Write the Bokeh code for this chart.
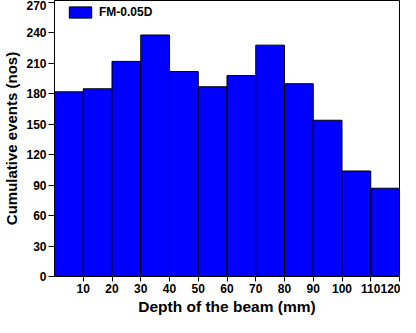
from bokeh.plotting import figure
from bokeh.models import FixedTicker, Range1d, Legend, LegendItem
from bokeh.embed import file_html
from bokeh.resources import INLINE

bin_left = [0, 10, 20, 30, 40, 50, 60, 70, 80, 90, 100, 110]
bin_right = [10, 20, 30, 40, 50, 60, 70, 80, 90, 100, 110, 120]
counts = [182, 185, 212, 238, 202, 187, 198, 228, 190, 154, 104, 87]
x_ticks = [10, 20, 30, 40, 50, 60, 70, 80, 90, 100, 110, 120]
y_ticks = [0, 30, 60, 90, 120, 150, 180, 210, 240, 270]
series_name = "FM-0.05D"

p = figure(width=400, height=317, output_backend="svg", toolbar_location=None,
           x_range=Range1d(0, 120), y_range=Range1d(0, 272),
           min_border_left=48, min_border_right=1, min_border_top=0, min_border_bottom=41)

r = p.quad(left=bin_left, right=bin_right, bottom=0, top=counts,
           fill_color="#0000FF", line_color="black", line_width=1)

p.xgrid.visible = False
p.ygrid.visible = False
p.outline_line_color = "black"
p.outline_line_width = 1

font = "Liberation Sans"
for ax in (p.xaxis[0], p.yaxis[0]):
    ax.major_label_text_font = font
    ax.major_label_text_font_style = "bold"
    ax.major_label_text_font_size = "12px"
    ax.major_label_text_color = "black"
    ax.axis_label_text_font = font
    ax.axis_label_text_font_style = "bold"
    ax.axis_label_text_color = "black"
    ax.axis_line_color = "black"
    ax.major_tick_line_color = "black"
    ax.minor_tick_line_color = None
    ax.major_tick_in = 0
    ax.major_label_standoff = 2

p.yaxis.major_tick_out = 6
p.xaxis.major_tick_out = 5
p.xaxis.axis_label_text_font_size = "15.5px"
p.yaxis.axis_label_text_font_size = "15px"
p.xaxis.ticker = FixedTicker(ticks=x_ticks)
p.yaxis.ticker = FixedTicker(ticks=y_ticks)
p.xaxis.axis_label = "Depth of the beam (mm)"
p.yaxis.axis_label = "Cumulative events (nos)"
p.xaxis.axis_label_standoff = 2
p.yaxis.axis_label_standoff = 3

legend = Legend(items=[LegendItem(label=series_name, renderers=[r])],
                location=(12, 257), border_line_color=None,
                background_fill_alpha=0, label_text_font=font,
                label_text_font_style="bold", label_text_font_size="12px",
                label_text_color="black",
                glyph_width=28, glyph_height=14, label_height=14,
                margin=0, padding=0)
p.add_layout(legend)

open("out.html", "w").write(file_html(p, INLINE))
